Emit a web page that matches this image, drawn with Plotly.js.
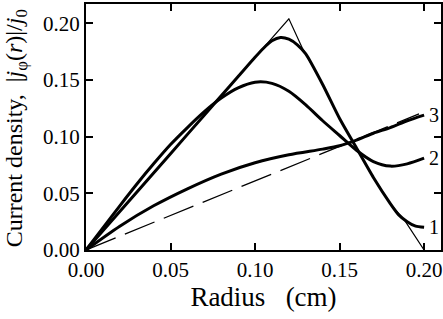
<!DOCTYPE html>
<html>
<head>
<meta charset="utf-8">
<script src="https://cdn.plot.ly/plotly-3.0.1.min.js"></script>
<style>html,body{margin:0;padding:0;background:#fff;}</style>
</head>
<body>
<div id="chart" style="width:443px;height:319px;"></div>
<script>
// Thin reference profile (peaked, its right leg runs under curve 1)
const thinX = [0, 0.12, 0.128, 0.13, 0.14, 0.15, 0.16, 0.17, 0.18, 0.189, 0.20];
const thinY = [0, 0.204, 0.178, 0.173, 0.146, 0.116, 0.090, 0.064, 0.041, 0.025, 0];

// Curve 1
const c1X = [0, 0.02, 0.04, 0.06, 0.08, 0.09, 0.10, 0.105, 0.11, 0.115, 0.12, 0.125, 0.13, 0.14, 0.15, 0.16, 0.17, 0.18, 0.185, 0.19, 0.195, 0.20];
const c1Y = [0, 0.034, 0.068, 0.102, 0.136, 0.153, 0.170, 0.178, 0.1845, 0.1875, 0.186, 0.181, 0.173, 0.146, 0.116, 0.090, 0.064, 0.041, 0.031, 0.025, 0.021, 0.020];

// Curve 2
const c2X = [0, 0.01, 0.02, 0.03, 0.04, 0.05, 0.06, 0.07, 0.08, 0.09, 0.10, 0.11, 0.12, 0.13, 0.14, 0.15, 0.16, 0.17, 0.18, 0.19, 0.20];
const c2Y = [0, 0.0195, 0.039, 0.058, 0.076, 0.093, 0.108, 0.122, 0.134, 0.143, 0.148, 0.147, 0.140, 0.128, 0.114, 0.101, 0.088, 0.078, 0.074, 0.076, 0.081];

// Curve 3
const c3X = [0, 0.02, 0.04, 0.06, 0.08, 0.10, 0.12, 0.14, 0.15, 0.16, 0.17, 0.18, 0.19, 0.20];
const c3Y = [0, 0.021, 0.039, 0.054, 0.067, 0.077, 0.084, 0.089, 0.092, 0.097, 0.103, 0.108, 0.114, 0.119];

// Dashed linear profile
const dashX = [0, 0.197];
const dashY = [0, 0.12];

const curveLabels = ["1", "2", "3"];
const yTitle = 'Current density,\u00a0\u00a0|<i>j</i><sub>φ</sub>(<i>r</i>)|/<i>j</i><sub>0</sub>';
const xTitle = 'Radius\u00a0\u00a0\u00a0(cm)';

const serif = "Liberation Serif";

const traces = [
  {x: dashX, y: dashY, mode: 'lines', line: {color: '#000', width: 1.3, dash: '32px,10px'}},
  {x: thinX, y: thinY, mode: 'lines', line: {color: '#000', width: 1.2}},
  {x: c3X, y: c3Y, mode: 'lines', line: {color: '#000', width: 3, shape: 'spline', smoothing: 0.8}},
  {x: c2X, y: c2Y, mode: 'lines', line: {color: '#000', width: 3, shape: 'spline', smoothing: 0.8}},
  {x: c1X, y: c1Y, mode: 'lines', line: {color: '#000', width: 3, shape: 'spline', smoothing: 0.6}}
];

const ends = [c1Y[c1Y.length - 1], c2Y[c2Y.length - 1], c3Y[c3Y.length - 1]];
const annotations = curveLabels.map((t, i) => ({
  x: 0.2, y: ends[i], xref: 'x', yref: 'y', text: t, showarrow: false,
  xanchor: 'left', yanchor: 'middle', xshift: 3,
  font: {family: serif, size: 20, color: '#000'}
}));
annotations.push({
  xref: 'paper', yref: 'paper', x: -0.197, y: 0.495, text: yTitle, textangle: -90,
  showarrow: false, xanchor: 'center', yanchor: 'middle', borderpad: 0,
  font: {family: serif, size: 24, color: '#000'}
});

const axisCommon = {
  showgrid: false, zeroline: false, showline: true, linecolor: '#000', linewidth: 2,
  mirror: 'allticks', ticks: 'inside', ticklen: 7, tickwidth: 2, tickcolor: '#000',
  dtick: 0.05, tickformat: '.2f',
  tickfont: {family: serif, size: 21, color: '#000'}
};

const layout = {
  width: 443, height: 319,
  margin: {l: 86, r: 2, t: 4, b: 69},
  paper_bgcolor: '#fff', plot_bgcolor: '#fff',
  showlegend: false,
  xaxis: Object.assign({}, axisCommon, {
    range: [0, 0.21], tick0: 0,
    title: {text: xTitle, font: {family: serif, size: 27, color: '#000'}, standoff: 6}
  }),
  yaxis: Object.assign({}, axisCommon, {
    range: [0, 0.217], tick0: 0
  }),
  annotations: annotations
};

Plotly.newPlot('chart', traces, layout, {displayModeBar: false, staticPlot: true});
</script>
</body>
</html>
